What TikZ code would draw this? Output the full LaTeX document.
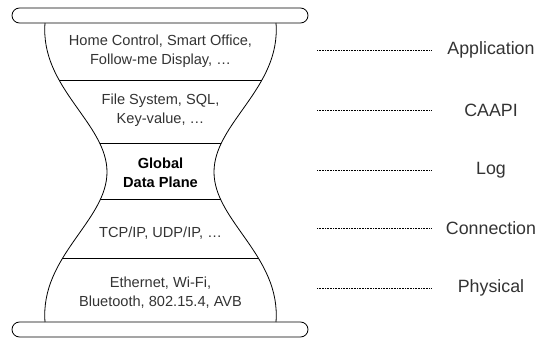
\documentclass[tikz,border=0pt]{standalone}
\usepackage{fontspec}
\setmainfont{Liberation Sans}
\usetikzlibrary{positioning}
\definecolor{ink}{rgb}{0.2,0.2,0.2}

\begin{document}
\begin{tikzpicture}[x=1pt, y=1pt,
    layer/.style={align=center, text=ink, font=\fontsize{14.6}{19}\selectfont},
    iface/.style={text=ink, minimum width=118pt, inner sep=0pt, font=\fontsize{17.8}{20}\selectfont},
    leader/.style={densely dotted, line width=0.6pt},
    rim/.style={rounded corners=7.5pt, line width=0.8pt}]

      \useasboundingbox (0,0) rectangle (539,338);

      % top and bottom plates
      \draw [rim] (12,315) rectangle (308,330);
      \draw [rim] (12,1) rectangle (308,16);

      % glass
      \draw [line width=0.8pt] (45,315) .. controls (40,250) and (107,215) .. (107,166)
            .. controls (107,117) and (40,82) .. (45,16);
      \draw [line width=0.8pt] (276,315) .. controls (281,250) and (214,215) .. (214,166)
            .. controls (214,117) and (281,82) .. (276,16);
      \begin{scope}
        \clip (45,315) .. controls (40,250) and (107,215) .. (107,166)
            .. controls (107,117) and (40,82) .. (45,16) -- (276,16)
            .. controls (281,82) and (214,117) .. (214,166)
            .. controls (214,215) and (281,250) .. (276,315) -- cycle;
        \draw [line width=0.7pt] (0,258) -- (320,258);
        \draw [line width=0.7pt] (0,195) -- (320,195);
        \draw [line width=0.7pt] (0,139) -- (320,139);
        \draw [line width=0.7pt] (0,80) -- (320,80);
      \end{scope}

      \node [layer] at (160.5, 286.5) (app) {Home Control, Smart Office,\\Follow-me Display, …};
      \node [layer] at (160.5, 228) (store) {File System, SQL,\\Key-value, …};
      \node [layer, font=\fontsize{14.6}{19}\selectfont\bfseries, text=black] at (160.5, 165.5) (gdp) {Global\\Data Plane};
      \node [layer] at (160.5, 105) (net) {TCP/IP, UDP/IP, …};
      \node [layer] at (160.5, 45.5) (phy) {Ethernet, Wi-Fi,\\Bluetooth, 802.15.4, AVB};

      \node [iface] at (491, 288) (lapp) {Application};
      \node [iface] at (491, 228) (lcaapi) {CAAPI};
      \node [iface] at (491, 168) (llog) {Log};
      \node [iface] at (491, 110) (lconn) {Connection};
      \node [iface] at (491, 50) (lphy) {Physical};

      \coordinate (dapp) at (317, 288);
      \coordinate (dcaapi) at (317, 228);
      \coordinate (dlog) at (317, 168);
      \coordinate (dconn) at (317, 110);
      \coordinate (dphy) at (317, 50);

      \draw [leader] (dapp) -- (lapp.west);
      \draw [leader] (dcaapi) -- (lcaapi.west);
      \draw [leader] (dlog) -- (llog.west);
      \draw [leader] (dconn) -- (lconn.west);
      \draw [leader] (dphy) -- (lphy.west);
\end{tikzpicture}
\end{document}
